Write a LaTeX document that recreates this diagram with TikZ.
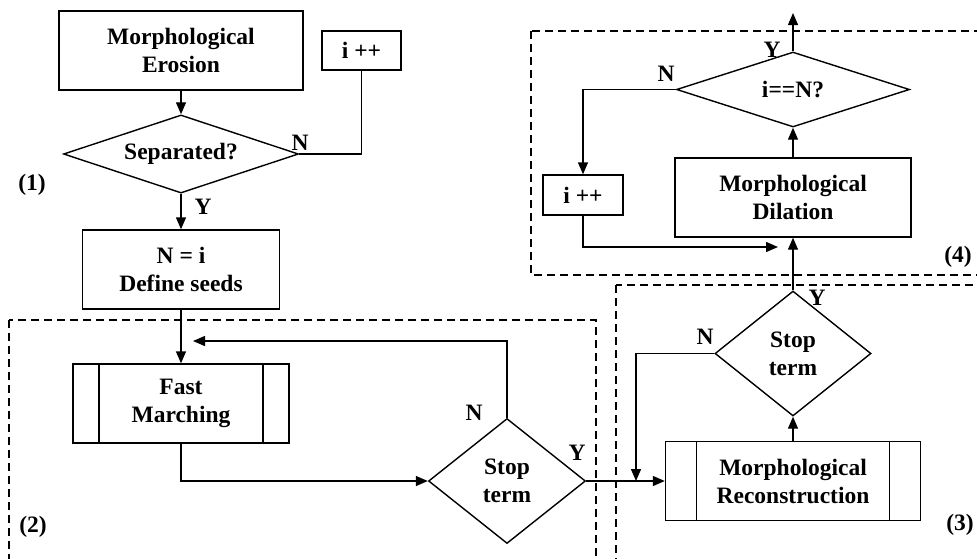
\documentclass[tikz,border=0pt]{standalone}
\usepackage{fontspec}
\setmainfont{Liberation Serif}
\usetikzlibrary{shapes.geometric}
\usetikzlibrary{arrows.meta}

\tikzset{
  every node/.style={font=\bfseries\fontsize{23.5}{28}\selectfont, align=center, inner sep=0pt},
  box/.style={draw, rectangle, line width=1.4pt},
  subproc/.style={box, path picture={
      \draw[line width=1.4pt] ([xshift=#1]path picture bounding box.north west) -- ([xshift=#1]path picture bounding box.south west);
      \draw[line width=1.4pt] ([xshift=-#1]path picture bounding box.north east) -- ([xshift=-#1]path picture bounding box.south east);}},
  decision/.style={draw, diamond, line width=1.4pt, shape aspect=2},
  flow/.style={line width=1.4pt, -{Triangle[length=12pt,width=10pt]}},
  link/.style={line width=1.4pt},
  region/.style={line width=1.4pt, dash pattern=on 8pt off 5pt}
}

\begin{document}
\begin{tikzpicture}[x=1pt, y=-1pt]
\clip (0,0) rectangle (977,558);
% column (1)
\node[box, minimum width=244pt, minimum height=79pt] (Erosion) at (181,50.5) {Morphological\\Erosion};
\node[decision, minimum width=235pt, minimum height=78pt] (Sep) at (181,154) {Separated?};
\node[box, minimum width=79pt, minimum height=39pt] (Inc1) at (361.5,50.5) {i ++};
\node[box, minimum width=197pt, minimum height=79pt] (Seeds) at (181,269.5) {N = i\\Define seeds};
\draw[flow] (Erosion.south) -- (Sep.north);
\draw[link] (Sep.east) -| (Inc1.south);
\draw[flow] (Sep.south) -- (Seeds.north);
\node (LblN1) at (300,143) {N};
\node (LblY1) at (203,207) {Y};
\node (Part1) at (32,185) {(1)};
% region (2)
\node[subproc=26pt, minimum width=216pt, minimum height=79pt] (FM) at (181,403.5) {Fast\\Marching};
\node[decision, shape aspect=1.25, minimum width=157pt, minimum height=125pt] (Stop2) at (507,481) {Stop\\term};
\coordinate (Back) at (193,341);
\draw[flow] (Seeds.south) -- (FM.north);
\draw[flow] (FM.south) |- (Stop2.west);
\draw[flow] (Stop2.north) |- (Back);
\node (LblN2) at (474,413) {N};
\node (LblY2) at (577,453) {Y};
\draw[region] (9,320) rectangle (596,580);
\node (Part2) at (33,527) {(2)};
% region (3)
\node[subproc=31pt, minimum width=255pt, minimum height=79pt] (Recon) at (793,481) {Morphological\\Reconstruction};
\node[decision, shape aspect=1.25, minimum width=156pt, minimum height=125pt] (Stop3) at (793,353.5) {Stop\\term};
\coordinate (Drop) at (636,481);
\draw[flow] (Stop2.east) -- (Recon.west);
\draw[flow] (Recon.north) -- (Stop3.south);
\draw[flow] (Stop3.west) -| (Drop);
\node (LblN3) at (705,337) {N};
\node (LblY3) at (817,298) {Y};
\draw[region] (616,285) rectangle (1000,580);
\node (Part3) at (960,525) {(3)};
% region (4)
\node[box, minimum width=236pt, minimum height=79pt] (Dil) at (793,197.5) {Morphological\\Dilation};
\node[decision, shape aspect=3, minimum width=233pt, minimum height=75pt] (Eq) at (793,89.5) {i==N?};
\node[box, minimum width=80pt, minimum height=40pt] (Inc2) at (583,195) {i ++};
\coordinate (Out) at (793,13);
\coordinate (Join) at (778,247);
\draw[flow] (Stop3.north) -- (Dil.south);
\draw[flow] (Dil.north) -- (Eq.south);
\draw[flow] (Eq.north) -- (Out);
\draw[flow] (Eq.west) -| (Inc2.north);
\draw[flow] (Inc2.south) |- (Join);
\node (LblN4) at (666,74) {N};
\node (LblY4) at (772,50) {Y};
\draw[region] (531,31) rectangle (1000,275);
\node (Part4) at (958,257) {(4)};
\end{tikzpicture}
\end{document}
